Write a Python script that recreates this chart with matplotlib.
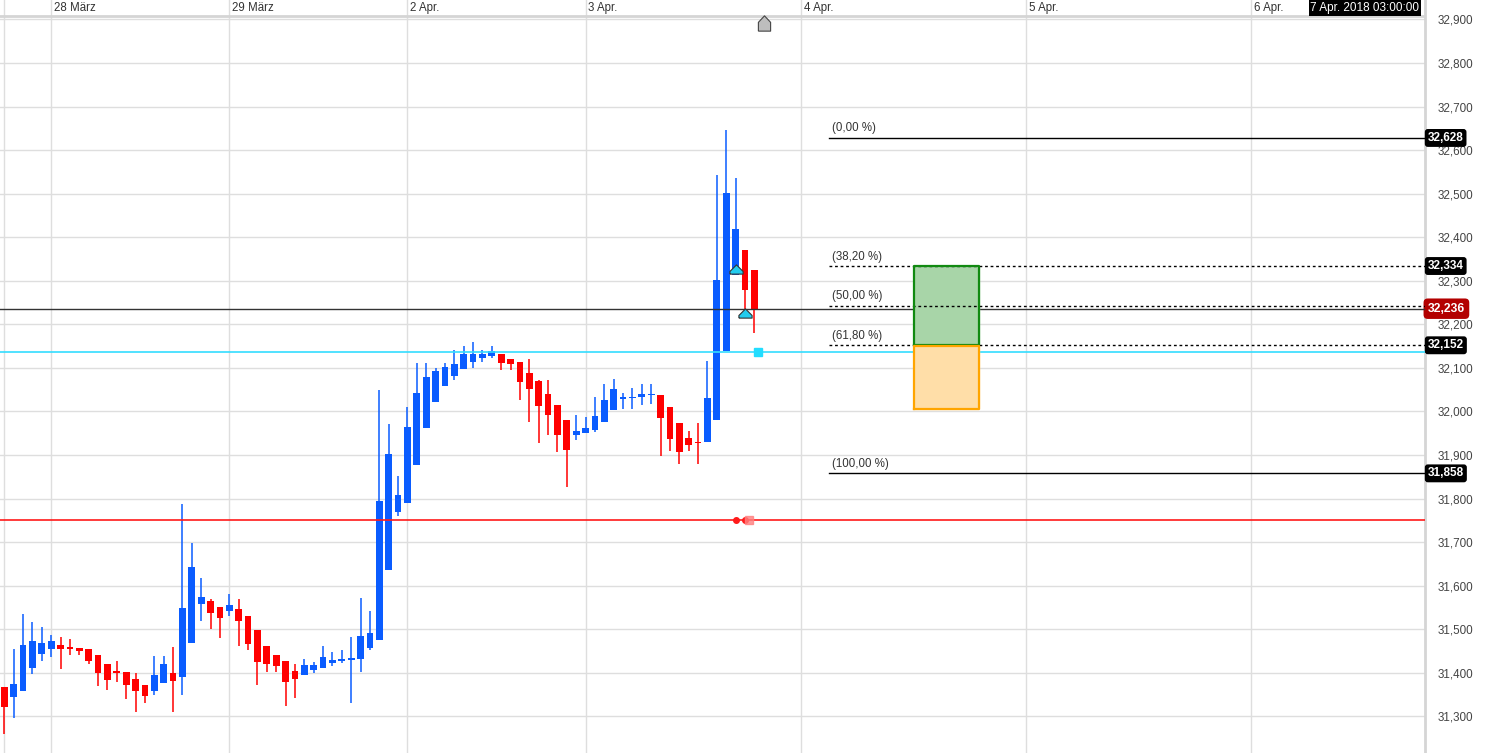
import matplotlib
matplotlib.use("Agg")
import matplotlib.pyplot as plt
import numpy as np

plt.rcParams['font.family'] = ['Liberation Sans', 'DejaVu Sans']

# hourly candles (index 0 = first visible bar)
opens = [31.367, 31.345, 31.359, 31.411, 31.444, 31.455, 31.464, 31.459, 31.457, 31.455,
         31.441, 31.420, 31.402, 31.402, 31.386, 31.372, 31.359, 31.377, 31.400, 31.391,
         31.469, 31.557, 31.565, 31.551, 31.541, 31.547, 31.531, 31.498, 31.462, 31.441,
         31.427, 31.404, 31.396, 31.407, 31.412, 31.423, 31.427, 31.430, 31.432, 31.458,
         31.475, 31.635, 31.770, 31.789, 31.878, 31.961, 32.021, 32.058, 32.081, 32.097,
         32.113, 32.122, 32.127, 32.133, 32.121, 32.114, 32.089, 32.071, 32.041, 32.016,
         31.981, 31.945, 31.950, 31.957, 31.975, 32.003, 32.028, 32.030, 32.033, 32.037,
         32.039, 32.011, 31.974, 31.940, 31.931, 31.929, 31.980, 32.140, 32.314, 32.370,
         32.324]
highs = [31.367, 31.455, 31.535, 31.517, 31.505, 31.487, 31.482, 31.478, 31.457, 31.455,
         31.441, 31.420, 31.427, 31.402, 31.400, 31.372, 31.438, 31.438, 31.459, 31.788,
         31.698, 31.618, 31.570, 31.551, 31.581, 31.570, 31.531, 31.498, 31.462, 31.441,
         31.427, 31.420, 31.432, 31.425, 31.462, 31.448, 31.452, 31.482, 31.572, 31.542,
         32.050, 31.972, 31.852, 32.011, 32.112, 32.112, 32.101, 32.112, 32.142, 32.151,
         32.160, 32.142, 32.151, 32.133, 32.121, 32.114, 32.121, 32.073, 32.073, 32.016,
         31.981, 31.993, 31.988, 32.034, 32.064, 32.075, 32.043, 32.055, 32.064, 32.064,
         32.039, 32.011, 31.974, 31.956, 31.974, 32.115, 32.544, 32.646, 32.535, 32.370,
         32.324]
lows = [31.259, 31.297, 31.359, 31.398, 31.428, 31.437, 31.409, 31.442, 31.442, 31.420,
        31.370, 31.361, 31.380, 31.340, 31.311, 31.331, 31.350, 31.377, 31.311, 31.350,
        31.469, 31.520, 31.501, 31.481, 31.531, 31.462, 31.453, 31.373, 31.402, 31.402,
        31.324, 31.343, 31.396, 31.400, 31.412, 31.416, 31.423, 31.331, 31.403, 31.453,
        31.475, 31.635, 31.761, 31.789, 31.878, 31.961, 32.021, 32.058, 32.072, 32.097,
        32.101, 32.113, 32.122, 32.095, 32.095, 32.026, 31.975, 31.927, 31.945, 31.906,
        31.826, 31.934, 31.950, 31.954, 31.975, 32.003, 32.005, 32.005, 32.014, 32.017,
        31.897, 31.909, 31.879, 31.909, 31.879, 31.929, 31.980, 32.140, 32.314, 32.226,
        32.180]
closes = [31.322, 31.374, 31.464, 31.473, 31.468, 31.473, 31.455, 31.455, 31.450, 31.428,
          31.400, 31.384, 31.400, 31.373, 31.359, 31.347, 31.395, 31.420, 31.382, 31.549,
          31.643, 31.574, 31.538, 31.527, 31.556, 31.518, 31.467, 31.426, 31.421, 31.416,
          31.380, 31.386, 31.418, 31.418, 31.436, 31.429, 31.432, 31.434, 31.485, 31.491,
          31.795, 31.903, 31.809, 31.965, 32.043, 32.080, 32.094, 32.103, 32.110, 32.131,
          32.131, 32.131, 32.140, 32.111, 32.108, 32.067, 32.051, 32.012, 31.991, 31.945,
          31.911, 31.956, 31.963, 31.990, 32.027, 32.052, 32.034, 32.034, 32.041, 32.041,
          31.984, 31.936, 31.906, 31.922, 31.927, 32.030, 32.301, 32.501, 32.420, 32.278,
          32.236]

day_pos = [0, 5, 24, 43, 62, 85, 109, 133]
day_labels = ['', '28 März', '29 März', '2 Apr.', '3 Apr.', '4 Apr.', '5 Apr.', '6 Apr.']
price_ticks = [31.3, 31.4, 31.5, 31.6, 31.7, 31.8, 31.9, 32.0, 32.1, 32.2, 32.3, 32.4,
               32.5, 32.6, 32.7, 32.8, 32.9]

last_price = 32.236
cyan_level = 32.137
red_level = 31.751
fib_high, fib_low = 32.628, 31.858
fib_pcts = [0.0, 38.2, 50.0, 61.8, 100.0]
fib_start = 88
zone_x = (97, 104)
green_zone = (32.152, 32.334)
orange_zone = (32.006, 32.152)
buy_marks_x = [78, 79]
buy_marks_y = [32.326, 32.225]
stop_dots_x = [78, 79]
now_x = 81

BLUE = '#0a5cff'
RED = '#ff0000'

fig = plt.figure(figsize=(14.99, 7.53), dpi=100)
ax = fig.add_axes([0, 0, 1425 / 1499, 1])

x = np.arange(len(opens))
o = np.array(opens); c = np.array(closes); h = np.array(highs); l = np.array(lows)
up = c >= o
cols = np.where(up, BLUE, RED)

# grid
for p in price_ticks:
    ax.axhline(p, color='#dedede', lw=1, zorder=0)
for d in day_pos:
    ax.axvline(d, color='#dedede', lw=1, zorder=0)

# candles
ax.vlines(x, l, h, colors=cols, lw=1.1, zorder=2)
body_lo = np.minimum(o, c)
body_h = np.maximum(np.abs(c - o), 0.004)
ax.bar(x, body_h, bottom=body_lo, width=0.72, color=cols, lw=0, zorder=3)

# horizontal levels
ax.axhline(last_price, color='#333333', lw=1, zorder=4)
ax.axhline(cyan_level, color='#33ddff', lw=1.2, zorder=4)
ax.axhline(red_level, color='#ff1a1a', lw=1.2, zorder=4)

# fibonacci retracement
xmax = 151.54
for pct in fib_pcts:
    lvl = fib_high - (fib_high - fib_low) * pct / 100
    solid = pct in (0.0, 100.0)
    ax.plot([fib_start, xmax], [lvl, lvl], color='black', lw=1,
            ls='-' if solid else (0, (2, 2)), zorder=5)
    ax.annotate('(%s %%)' % f'{pct:.2f}'.replace('.', ','), xy=(fib_start + 0.25, lvl),
                xytext=(0, 2.5), textcoords='offset points', ha='left', va='bottom',
                fontsize=8.3, color='#333333')

# target / stop zones
ax.fill_between(zone_x, green_zone[0], green_zone[1], color='#a8d5a8', zorder=4)
ax.plot([zone_x[0], zone_x[1], zone_x[1], zone_x[0], zone_x[0]],
        [green_zone[0], green_zone[0], green_zone[1], green_zone[1], green_zone[0]],
        color='#118a11', lw=1.6, zorder=6)
ax.fill_between(zone_x, orange_zone[0], orange_zone[1] - 0.002, color='#ffdea8', zorder=4)
ax.plot([zone_x[0], zone_x[1], zone_x[1], zone_x[0], zone_x[0]],
        [orange_zone[0], orange_zone[0], orange_zone[1] - 0.002, orange_zone[1] - 0.002, orange_zone[0]],
        color='#ffa500', lw=1.6, zorder=6)

# markers
house = [(-1, -0.7), (1, -0.7), (1, -0.3), (0, 0.7), (-1, -0.3), (-1, -0.7)]
ax.plot(buy_marks_x, buy_marks_y, ls='none', marker=house, ms=9.5,
        mfc='#22ccee', mec='#333333', mew=0.8, zorder=7)
ax.plot(stop_dots_x, [red_level] * 2, ls='none', marker='o', ms=4, color='#ff1a1a', zorder=7)
ax.plot([stop_dots_x[1] + 0.4], [red_level], ls='none', marker='s', ms=6,
        color='#ff8080', alpha=0.8, zorder=7)
ax.plot([80.4], [cyan_level], ls='none', marker='s', ms=6, color='#22ddff', zorder=7)
house2 = [(-0.8, -1), (0.8, -1), (0.8, 0.15), (0, 1), (-0.8, 0.15), (-0.8, -1)]
ax.plot([now_x], [32.893], ls='none', marker=house2, ms=11, mfc='#bdbdbd',
        mec='#444444', mew=0.8, zorder=7, clip_on=False)

# header strip
ax.axhline(32.908, color='#d5d5d5', lw=2, zorder=1)
for d, lab in zip(day_pos, day_labels):
    if lab:
        ax.text(d + 0.3, 32.926, lab, ha='left', va='center', fontsize=8.3,
                color='#333333', family=['Liberation Sans Narrow', 'Liberation Sans'])
ax.annotate('7 Apr. 2018 03:00:00', xy=(1, 1), xycoords='axes fraction',
            xytext=(-4, -1.5), textcoords='offset points', ha='right', va='top',
            fontsize=8.5, color='white',
            bbox=dict(boxstyle='square,pad=0.15', fc='black', ec='none'))

# right side price boxes
for lvl in [fib_high, 32.334, 32.152, fib_low]:
    ax.annotate(f'{lvl:.3f}'.replace('.', ','), xy=(1, lvl), xycoords=('axes fraction', 'data'),
                xytext=(2, 0), textcoords='offset points', ha='left', va='center',
                fontsize=8.5, fontweight='bold', color='white', annotation_clip=False,
                bbox=dict(boxstyle='round,pad=0.25', fc='black', ec='none'))
ax.annotate(f'{last_price:.3f}'.replace('.', ','), xy=(1, last_price),
            xycoords=('axes fraction', 'data'), xytext=(2, 0), textcoords='offset points',
            ha='left', va='center', fontsize=8.7, fontweight='bold', color='white',
            annotation_clip=False,
            bbox=dict(boxstyle='round,pad=0.35', fc='#b30000', ec='none'))

ax.set_xlim(-0.4587, xmax)
ax.set_ylim(31.2160, 32.9447)
ax.set_xticks([])
ax.yaxis.tick_right()
ax.set_yticks(price_ticks)
ax.set_yticklabels([f'{p:.3f}'.replace('.', ',') for p in price_ticks])
ax.tick_params(axis='y', length=0, pad=9, labelsize=8.4, labelcolor='#444444')
for s in ['left', 'top', 'bottom']:
    ax.spines[s].set_visible(False)
ax.spines['right'].set_color('#d5d5d5')
ax.spines['right'].set_linewidth(2)

fig.savefig('out.png', dpi=100)
